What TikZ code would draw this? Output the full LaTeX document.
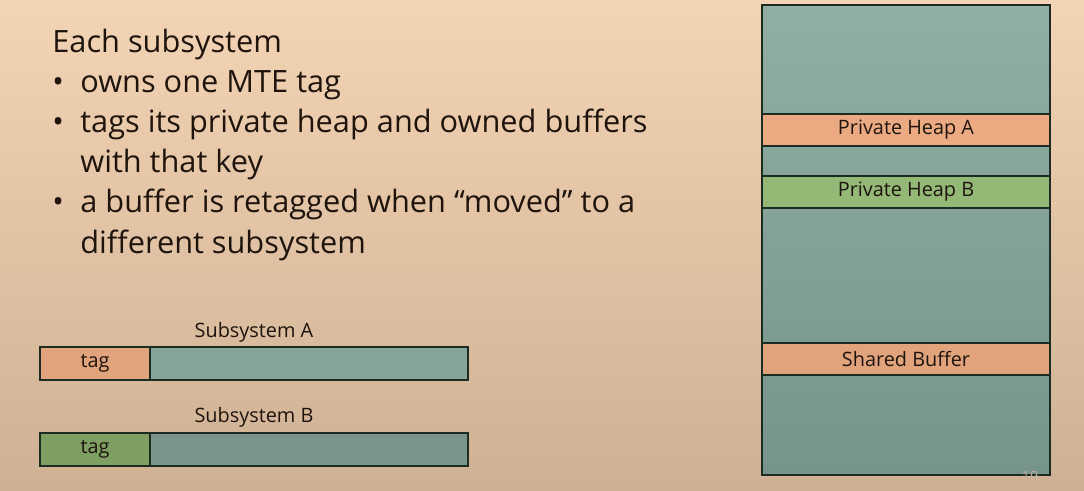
\documentclass[tikz,border=0pt]{standalone}
\usepackage{fontspec}
\setmainfont{Open Sans}
\usepackage{xcolor}
\usepackage{tikz}
\usetikzlibrary{positioning}

\definecolor{bgtop}{RGB}{243,212,180}
\definecolor{bgmid}{RGB}{238,205,172}
\definecolor{bgbot}{RGB}{206,177,148}
\definecolor{tealtop}{RGB}{144,175,163}
\definecolor{tealbot}{RGB}{118,148,138}
\definecolor{tealA}{RGB}{134,164,154}
\definecolor{tealB}{RGB}{121,149,140}
\definecolor{salmon}{RGB}{236,170,130}
\definecolor{salmondk}{RGB}{224,163,124}
\definecolor{leaf}{RGB}{148,184,118}
\definecolor{leafdk}{RGB}{126,158,98}
\definecolor{edge}{RGB}{28,44,34}
\definecolor{ink}{RGB}{30,20,12}
\definecolor{faint}{RGB}{196,176,156}

\newcommand\px{0.02cm}

\tikzset{
	txt/.style={anchor=base west, inner sep=0pt, text=ink, font=\fontsize{17.5}{21}\selectfont},
	lbl/.style={anchor=base, inner sep=0pt, text=ink, font=\fontsize{11.3}{13}\selectfont},
	band/.style={draw=edge, line width=1pt, outer sep=0pt, inner sep=0pt, minimum width=288*\px, minimum height=32*\px, text=ink, font=\fontsize{11.3}{13}\selectfont},
	tagbox/.style={draw=edge, line width=1pt, outer sep=0pt, inner sep=0pt, minimum width=110*\px, minimum height=33*\px, text=ink, font=\fontsize{11.3}{13}\selectfont},
	bar/.style={draw=edge, line width=1pt, outer sep=0pt, inner sep=0pt, minimum width=318*\px, minimum height=33*\px}
}

\begin{document}
\begin{tikzpicture}[x=\px, y=-\px]
	\newcommand\lineSkip{40.2}
	\newcommand\textX{80}
	% background
	\shade[top color=bgtop, middle color=bgmid, bottom color=bgbot] (0,0) rectangle (1084,490);

	% text
	\node[txt] (head) at (52,52) {Each subsystem};
	\node[txt] (dot1) at (52,52+\lineSkip)   {•};
	\node[txt] (ln1)  at (\textX,52+\lineSkip)   {owns one MTE tag};
	\node[txt] (dot2) at (52,52+2*\lineSkip) {•};
	\node[txt] (ln2)  at (\textX,52+2*\lineSkip) {tags its private heap and owned buffers};
	\node[txt] (ln3)  at (\textX,52+3*\lineSkip) {with that key};
	\node[txt] (dot3) at (52,52+4*\lineSkip) {•};
	\node[txt] (ln4)  at (\textX,52+4*\lineSkip) {a buffer is retagged when “moved” to a};
	\node[txt] (ln5)  at (\textX,52+5*\lineSkip) {different subsystem};

	% subsystems
	\node[lbl] (subA) at (254,337) {Subsystem A};
	\node[tagbox, fill=salmondk, anchor=west] (tagA) at (40,363.5) {tag};
	\node[bar, fill=tealA, right=0pt of tagA] (barA) {};
	\node[lbl] (subB) at (254,422) {Subsystem B};
	\node[tagbox, fill=leafdk, anchor=west] (tagB) at (40,449.5) {tag};
	\node[bar, fill=tealB, right=0pt of tagB] (barB) {};

	% memory
	\node[draw=edge, line width=1pt, outer sep=0pt, minimum width=288*\px, minimum height=470*\px,
		top color=tealtop, bottom color=tealbot] (mem) at (906,240) {};
	\node[band, fill=salmon] (heapA) at (906,130) {Private Heap A};
	\node[band, fill=leaf] (heapB) at (906,192) {Private Heap B};
	\node[band, fill=salmondk] (shared) at (906,359) {Shared Buffer};

	\node[lbl, text=faint, font=\fontsize{8}{9}\selectfont] (pgnum) at (1030,481) {19};
\end{tikzpicture}
\end{document}
